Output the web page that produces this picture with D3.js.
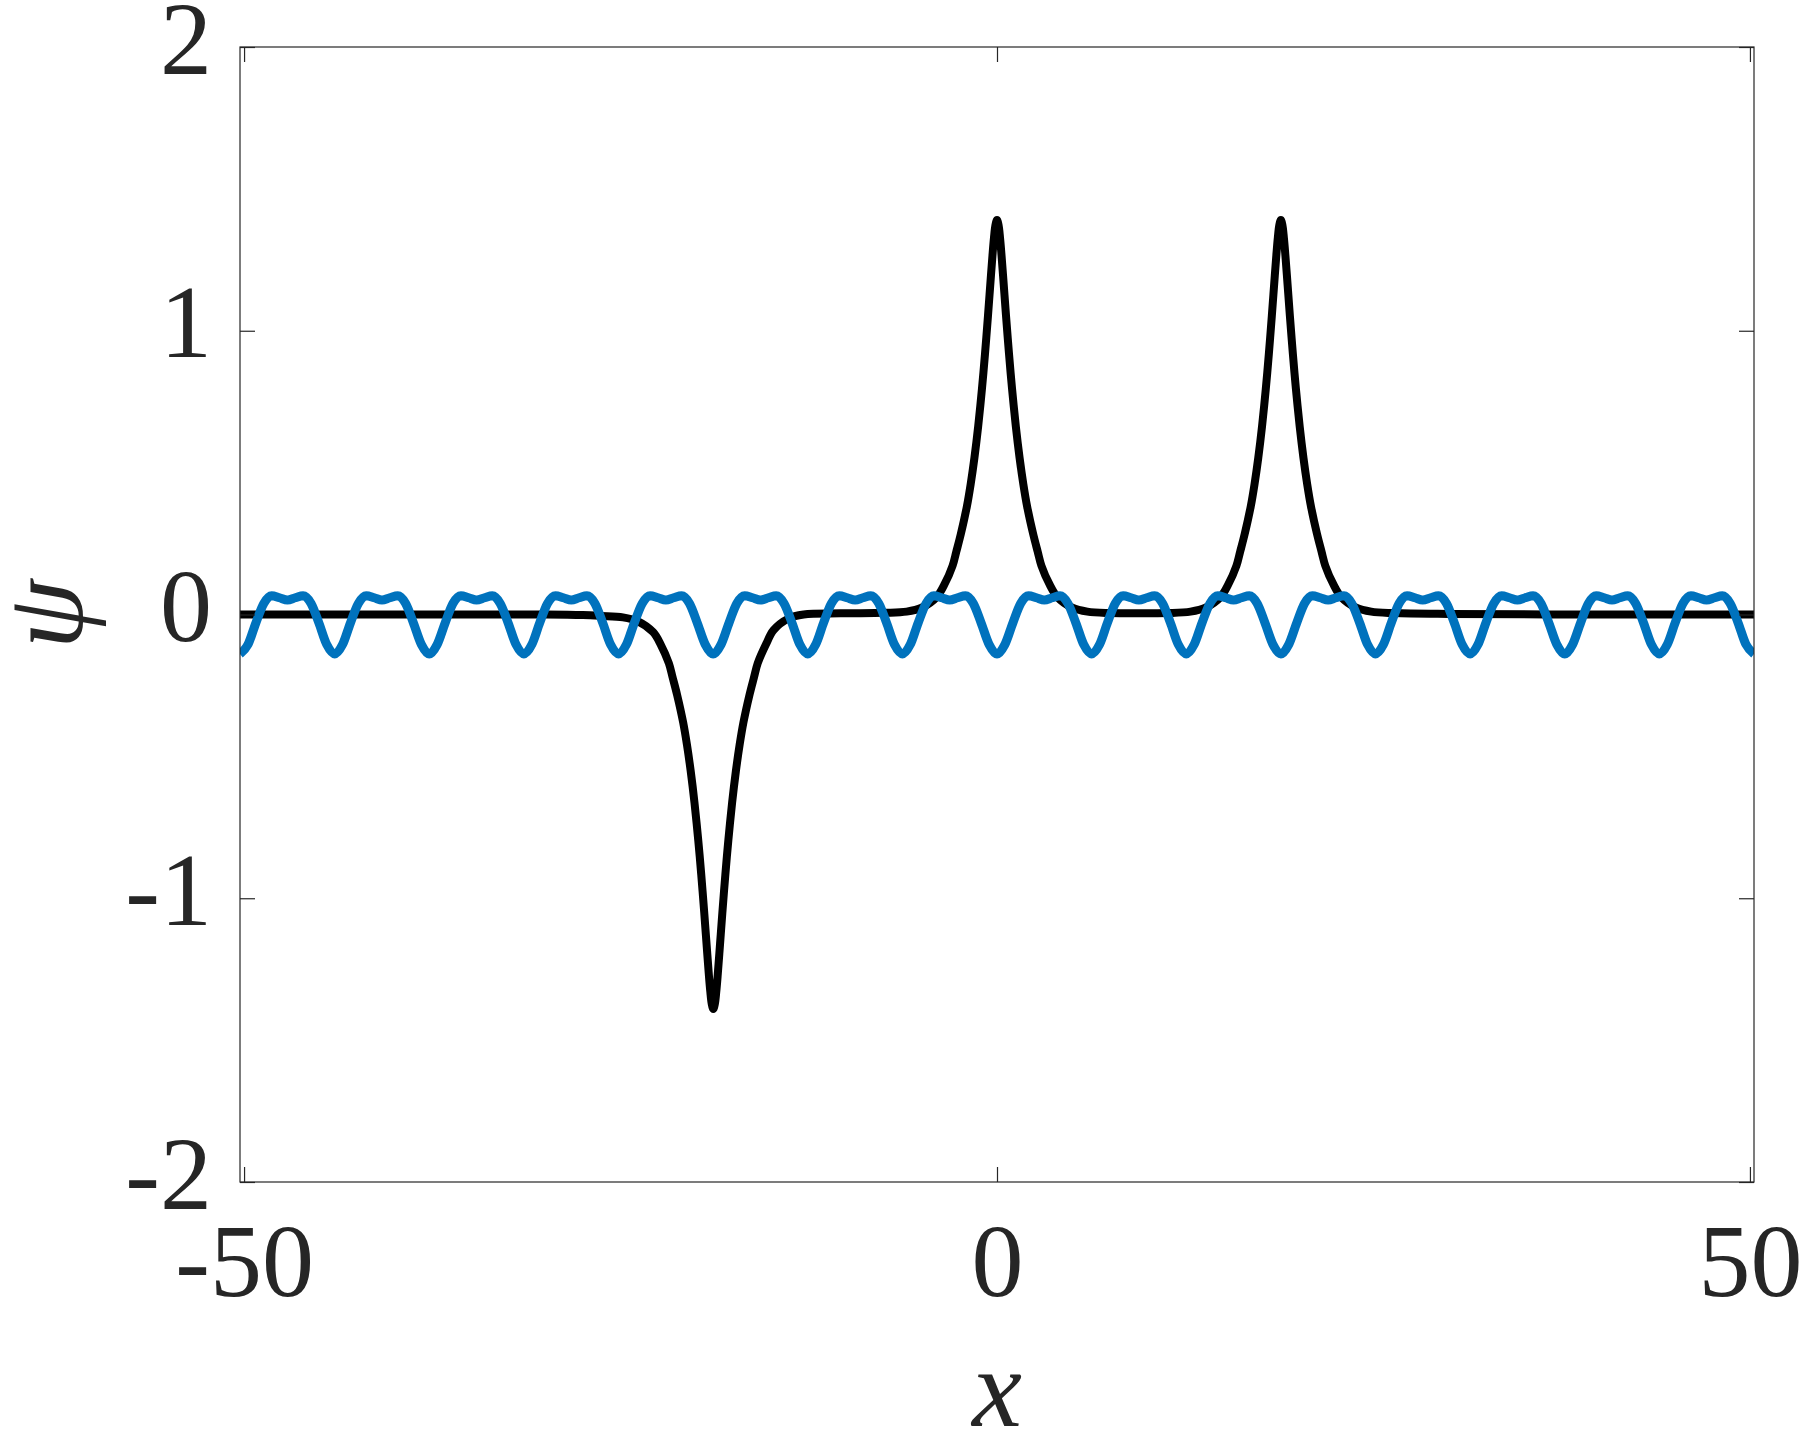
<!DOCTYPE html>
<html>
<head>
<meta charset="utf-8">
<script src="https://cdn.jsdelivr.net/npm/d3@7"></script>
<style>
html,body{margin:0;padding:0;background:#fff;}
svg{display:block;}
</style>
</head>
<body>
<script>
// ---- data ----
const xDomain = [-50.27, 50.27];
const yDomain = [-2, 2];
const xTicks = [-50, 0, 50];
const xTickLabels = ["-50", "0", "50"];
const yTicks = [-2, -1, 0, 1, 2];
const yTickLabels = ["-2", "-1", "0", "1", "2"];
const xLabel = "x";
const yLabel = "ψ";

const blackX = [
-50.27,-40.00,-30.00,-27.50,-26.30,
-24.84,-23.84,-22.84,-22.34,-21.79,-21.54,-21.24,-20.84,-20.59,-20.34,-20.09,-19.84,-19.64,-19.44,-19.29,-19.14,-19.04,-18.94,
-18.84,-18.74,-18.64,-18.54,-18.39,-18.24,-18.04,-17.84,-17.59,-17.34,-17.09,-16.84,-16.44,-16.14,-15.89,-15.34,-14.84,-13.84,-12.84,
-10.40,-7.50,
-6.00,-5.00,-4.00,-3.50,-2.95,-2.70,-2.40,-2.00,-1.75,-1.50,-1.25,-1.00,-0.80,-0.60,-0.45,-0.30,-0.20,-0.10,0.00,0.10,0.20,0.30,0.45,0.60,0.80,1.00,1.25,1.50,1.75,2.00,2.40,2.70,2.95,3.50,4.00,5.00,6.00,
7.50,9.42,11.35,
12.85,13.85,14.85,15.35,15.90,16.15,16.45,16.85,17.10,17.35,17.60,17.85,18.05,18.25,18.40,18.55,18.65,18.75,18.85,18.95,19.05,19.15,19.30,19.45,19.65,19.85,20.10,20.35,20.60,20.85,21.25,21.55,21.80,22.35,22.85,23.85,24.85,
26.35,30.00,40.00,50.27];
const blackY = [
0.000,0.000,0.000,-0.002,-0.005,
-0.010,-0.024,-0.062,-0.105,-0.172,-0.222,-0.284,-0.381,-0.459,-0.552,-0.663,-0.795,-0.917,-1.052,-1.160,-1.266,-1.328,-1.373,
-1.390,-1.373,-1.328,-1.266,-1.160,-1.052,-0.917,-0.795,-0.663,-0.552,-0.459,-0.381,-0.284,-0.222,-0.172,-0.105,-0.055,-0.014,0.000,
0.004,0.006,
0.010,0.024,0.062,0.105,0.172,0.222,0.284,0.381,0.459,0.552,0.663,0.795,0.917,1.052,1.160,1.266,1.328,1.373,1.390,1.373,1.328,1.266,1.160,1.052,0.917,0.795,0.663,0.552,0.459,0.381,0.284,0.222,0.172,0.105,0.062,0.024,0.010,
0.005,0.004,0.005,
0.010,0.024,0.062,0.105,0.172,0.222,0.284,0.381,0.459,0.552,0.663,0.795,0.917,1.052,1.160,1.266,1.328,1.373,1.390,1.373,1.328,1.266,1.160,1.052,0.917,0.795,0.663,0.552,0.459,0.381,0.284,0.222,0.172,0.105,0.062,0.024,0.010,
0.005,0.002,0.000,0.000];

const blueX = [-50.27,-49.74,-49.22,-48.69,-48.17,-47.65,-47.12,-46.60,-46.08,-45.55,-45.03,-44.51,
-43.98,-43.46,-42.94,-42.41,-41.89,-41.36,-40.84,-40.32,-39.79,-39.27,-38.75,-38.22,
-37.70,-37.18,-36.65,-36.13,-35.60,-35.08,-34.56,-34.03,-33.51,-32.99,-32.46,-31.94,
-31.42,-30.89,-30.37,-29.85,-29.32,-28.80,-28.27,-27.75,-27.23,-26.70,-26.18,-25.66,
-25.13,-24.61,-24.09,-23.56,-23.04,-22.51,-21.99,-21.47,-20.94,-20.42,-19.90,-19.37,
-18.85,-18.33,-17.80,-17.28,-16.76,-16.23,-15.71,-15.18,-14.66,-14.14,-13.61,-13.09,
-12.57,-12.04,-11.52,-11.00,-10.47,-9.95,-9.42,-8.90,-8.38,-7.85,-7.33,-6.81,
-6.28,-5.76,-5.24,-4.71,-4.19,-3.67,-3.14,-2.62,-2.09,-1.57,-1.05,-0.52,
0.00,0.52,1.05,1.57,2.09,2.62,3.14,3.67,4.19,4.71,5.24,5.76,
6.28,6.81,7.33,7.85,8.38,8.90,9.42,9.95,10.47,11.00,11.52,12.04,
12.57,13.09,13.61,14.14,14.66,15.18,15.71,16.23,16.76,17.28,17.80,18.33,
18.85,19.37,19.90,20.42,20.94,21.47,21.99,22.51,23.04,23.56,24.09,24.61,
25.13,25.66,26.18,26.70,27.23,27.75,28.27,28.80,29.32,29.85,30.37,30.89,
31.42,31.94,32.46,32.99,33.51,34.03,34.56,35.08,35.60,36.13,36.65,37.18,
37.70,38.22,38.75,39.27,39.79,40.32,40.84,41.36,41.89,42.41,42.94,43.46,
43.98,44.51,45.03,45.55,46.08,46.60,47.12,47.65,48.17,48.69,49.22,49.74,
50.27];
const blueY = [
-0.139,-0.106,-0.030,0.039,0.066,0.059,0.051,0.059,0.066,0.039,-0.030,-0.106,
-0.139,-0.106,-0.030,0.039,0.066,0.059,0.051,0.059,0.066,0.039,-0.030,-0.106,
-0.139,-0.106,-0.030,0.039,0.066,0.059,0.051,0.059,0.066,0.039,-0.030,-0.106,
-0.139,-0.106,-0.030,0.039,0.066,0.059,0.051,0.059,0.066,0.039,-0.030,-0.106,
-0.139,-0.106,-0.030,0.039,0.066,0.059,0.051,0.059,0.066,0.039,-0.030,-0.106,
-0.139,-0.106,-0.030,0.039,0.066,0.059,0.051,0.059,0.066,0.039,-0.030,-0.106,
-0.139,-0.106,-0.030,0.039,0.066,0.059,0.051,0.059,0.066,0.039,-0.030,-0.106,
-0.139,-0.106,-0.030,0.039,0.066,0.059,0.051,0.059,0.066,0.039,-0.030,-0.106,
-0.139,-0.106,-0.030,0.039,0.066,0.059,0.051,0.059,0.066,0.039,-0.030,-0.106,
-0.139,-0.106,-0.030,0.039,0.066,0.059,0.051,0.059,0.066,0.039,-0.030,-0.106,
-0.139,-0.106,-0.030,0.039,0.066,0.059,0.051,0.059,0.066,0.039,-0.030,-0.106,
-0.139,-0.106,-0.030,0.039,0.066,0.059,0.051,0.059,0.066,0.039,-0.030,-0.106,
-0.139,-0.106,-0.030,0.039,0.066,0.059,0.051,0.059,0.066,0.039,-0.030,-0.106,
-0.139,-0.106,-0.030,0.039,0.066,0.059,0.051,0.059,0.066,0.039,-0.030,-0.106,
-0.139,-0.106,-0.030,0.039,0.066,0.059,0.051,0.059,0.066,0.039,-0.030,-0.106,
-0.139,-0.106,-0.030,0.039,0.066,0.059,0.051,0.059,0.066,0.039,-0.030,-0.106,
-0.139];

// ---- layout ----
const W = 1801, H = 1434;
const margin = {left: 240, right: 47, top: 47, bottom: 252};
const iw = W - margin.left - margin.right;
const ih = H - margin.top - margin.bottom;
const axisColor = "#262626";
const fontFamily = "'Liberation Serif','Times New Roman',serif";
const tickFont = 104;
const labelFont = 112;
const tickLen = 15;

const svg = d3.select("body").append("svg").attr("width", W).attr("height", H)
  .style("background", "#fff");

const x = d3.scaleLinear().domain(xDomain).range([0, iw]);
const y = d3.scaleLinear().domain(yDomain).range([ih, 0]);

const g = svg.append("g").attr("transform", `translate(${margin.left},${margin.top})`);

g.append("defs").append("clipPath").attr("id", "clip")
  .append("rect").attr("width", iw).attr("height", ih);

// lines
const blackLine = d3.line().x(d => x(d[0])).y(d => y(d[1])).curve(d3.curveCatmullRom.alpha(0.5));
const blueLine = d3.line().x(d => x(d[0])).y(d => y(d[1])).curve(d3.curveMonotoneX);
const blackPts = blackX.map((v, i) => [v, blackY[i]]);
const bluePts = blueX.map((v, i) => [v, blueY[i]]);

const plot = g.append("g").attr("clip-path", "url(#clip)");
plot.append("path").datum(blackPts).attr("d", blackLine)
  .attr("fill", "none").attr("stroke", "#000").attr("stroke-width", 8)
  .attr("stroke-linejoin", "round");
plot.append("path").datum(bluePts).attr("d", blueLine)
  .attr("fill", "none").attr("stroke", "#0072BD").attr("stroke-width", 9)
  .attr("stroke-linejoin", "round");

// axes (ticks inside, on all four sides)
const xb = g.append("g").attr("transform", `translate(0,${ih})`)
  .call(d3.axisBottom(x).tickValues(xTicks).tickSizeInner(-tickLen).tickSizeOuter(0)
    .tickFormat((d, i) => xTickLabels[i]));
const xt = g.append("g")
  .call(d3.axisTop(x).tickValues(xTicks).tickSizeInner(-tickLen).tickSizeOuter(0).tickFormat(""));
const yl = g.append("g")
  .call(d3.axisLeft(y).tickValues(yTicks).tickSizeInner(-tickLen).tickSizeOuter(0)
    .tickFormat((d, i) => yTickLabels[i]));
const yr = g.append("g").attr("transform", `translate(${iw},0)`)
  .call(d3.axisRight(y).tickValues(yTicks).tickSizeInner(-tickLen).tickSizeOuter(0).tickFormat(""));

[xb, xt, yl, yr].forEach(a => {
  a.select(".domain").remove();
  a.selectAll(".tick line").attr("stroke", axisColor).attr("stroke-width", 1.2);
});

xb.selectAll(".tick text")
  .attr("y", 0).attr("dy", null)
  .attr("transform", "translate(0,114)")
  .attr("font-family", fontFamily).attr("font-size", tickFont)
  .attr("fill", axisColor).attr("text-anchor", "middle");

yl.selectAll(".tick text")
  .attr("x", -28).attr("dy", null).attr("y", 26)
  .attr("font-family", fontFamily).attr("font-size", tickFont)
  .attr("fill", axisColor).attr("text-anchor", "end");

// box
g.append("rect").attr("width", iw).attr("height", ih)
  .attr("fill", "none").attr("stroke", axisColor).attr("stroke-width", 1.2);

// axis labels
svg.append("text")
  .attr("x", margin.left + x(0)).attr("y", 1426)
  .attr("text-anchor", "middle")
  .attr("font-family", fontFamily).attr("font-style", "italic")
  .attr("font-size", labelFont).attr("fill", axisColor)
  .text(xLabel);

svg.append("text")
  .attr("transform", `translate(82,${margin.top + y(0)}) rotate(-90)`)
  .attr("text-anchor", "middle")
  .attr("font-family", fontFamily).attr("font-style", "italic")
  .attr("font-size", labelFont).attr("fill", axisColor)
  .text(yLabel);
</script>
</body>
</html>
